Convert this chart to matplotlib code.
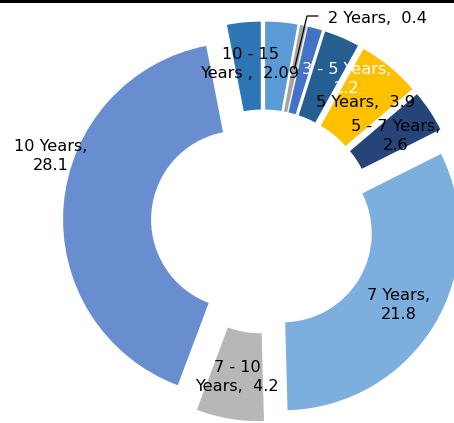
import math
import matplotlib.pyplot as plt
from matplotlib.patches import Rectangle

W, H = 454, 423

# slices go clockwise from 12 o'clock
labels = ['', '2 Years', '', '3 - 5 Years', '5 Years', '5 - 7 Years',
          '7 Years', '7 - 10 Years', '10 Years', '10 - 15 Years']
values = [2.0, 0.4, 0.9, 2.2, 3.9, 2.6, 21.8, 4.2, 28.1, 2.09]
colors = ['#5B9BD5', '#A5A5A5', '#4472C4', '#255E91', '#FFC000', '#264478',
          '#7CAFDD', '#B7B7B7', '#698ED0', '#2E75B6']

plt.rcParams['font.family'] = ['DejaVu Sans']

fig = plt.figure(figsize=(W / 100, H / 100), dpi=100)
ax = fig.add_axes([0, 0, 1, 1])


def py(y):
    # pixel rows are counted from the top
    return H - y


cx, cy = 263, py(221.5)
R = 177
# explode is in data units here (the axes are laid out in pixels)
wedges, _ = ax.pie(values, colors=colors, startangle=90, counterclock=False,
                   radius=R, center=(cx, cy), explode=[23] * len(values),
                   wedgeprops=dict(width=88, linewidth=0))

ax.set_xlim(0, W)
ax.set_ylim(0, H)
ax.set_aspect('equal')
ax.axis('off')

fs = 11.6
txt = dict(fontsize=fs, ha='center', va='center', linespacing=1.3)
ax.text(250, py(64), '10 - 15\nYears ,  2.09', **txt)
ax.text(51, py(156), '10 Years,\n28.1', **txt)
ax.text(399, py(305), '7 Years,\n21.8', **txt)
ax.text(237, py(377), '7 - 10\nYears,  4.2', **txt)
ax.text(347, py(79), '3 - 5 Years,\n2.2', color='white', **txt)
ax.text(366, py(102), '5 Years,  3.9', **txt)
ax.text(396, py(136), '5 - 7 Years,\n2.6', **txt)

# leader line for the thin slice
w = wedges[1]
mid = math.radians((w.theta1 + w.theta2) / 2)
rm = w.r - w.width / 2
end = (w.center[0] + rm * math.cos(mid), w.center[1] + rm * math.sin(mid))
ax.plot([318, 307, end[0]], [py(16), py(16), end[1]], color='black', lw=0.9)
ax.text(328, py(18), '2 Years,  0.4', fontsize=fs, ha='left', va='center')

fig.add_artist(Rectangle((0, 1 - 3 / H), 1, 3 / H, transform=fig.transFigure,
                         color='black', lw=0))

fig.savefig('out.png', dpi=100)
